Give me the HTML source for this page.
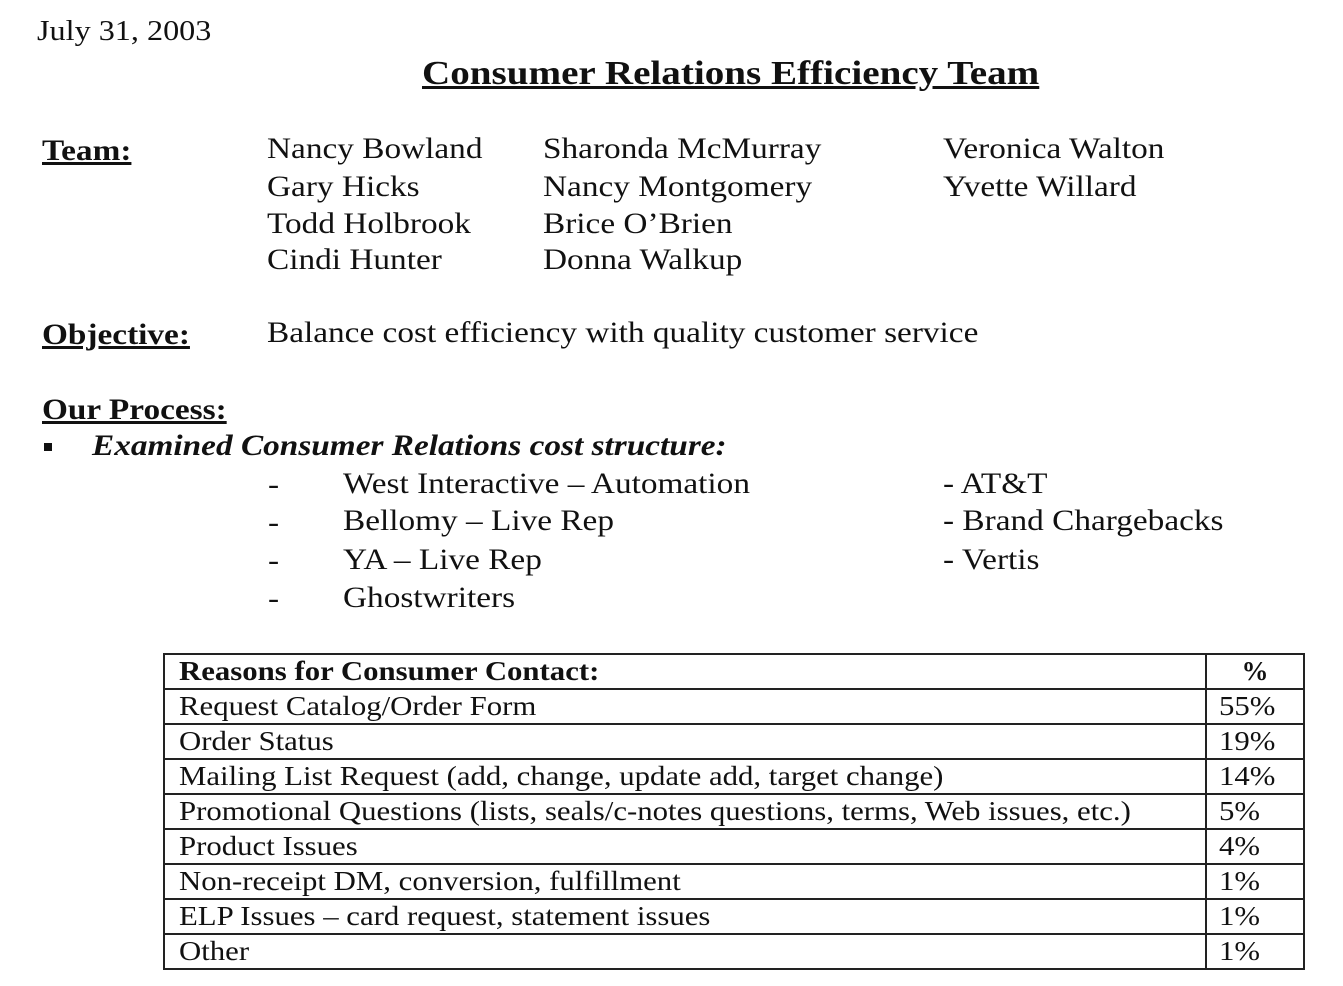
<!DOCTYPE html>
<html><head><meta charset="utf-8">
<style>
body{margin:0;width:1343px;height:986px;background:#fff;position:relative;overflow:hidden;font-family:"Liberation Serif",serif;color:#111}
.t{position:absolute;white-space:nowrap;line-height:1;font-size:30px;transform:scaleX(1.11);transform-origin:0 0}
.b{font-weight:bold;text-decoration:underline}
table{position:absolute;left:163px;top:653px;width:1142px;border-collapse:collapse;font-size:27px}
td{border:2px solid #222;height:33px;padding:0 0 0 14px;line-height:1;white-space:nowrap}
td span{display:inline-block;transform:scaleX(1.14);transform-origin:0 50%}
td.p{width:84px;padding-left:12px}
</style></head><body>
<div class="t" style="left:37px;top:17px;font-size:29px">July 31, 2003</div>
<div class="t b" style="left:422px;top:57px;font-size:34px;transform:scaleX(1.15)">Consumer Relations Efficiency Team</div>
<div class="t b" style="left:42px;top:136px">Team:</div>
<div class="t" style="left:267px;top:134px">Nancy Bowland</div>
<div class="t" style="left:267px;top:172px">Gary Hicks</div>
<div class="t" style="left:267px;top:209px">Todd Holbrook</div>
<div class="t" style="left:267px;top:245px">Cindi Hunter</div>
<div class="t" style="left:543px;top:134px">Sharonda McMurray</div>
<div class="t" style="left:543px;top:172px">Nancy Montgomery</div>
<div class="t" style="left:543px;top:209px">Brice O’Brien</div>
<div class="t" style="left:543px;top:245px">Donna Walkup</div>
<div class="t" style="left:943px;top:134px">Veronica Walton</div>
<div class="t" style="left:943px;top:172px">Yvette Willard</div>
<div class="t b" style="left:42px;top:320px">Objective:</div>
<div class="t" style="left:267px;top:318px">Balance cost efficiency with quality customer service</div>
<div class="t b" style="left:42px;top:395px">Our Process:</div>
<div style="position:absolute;left:44px;top:443px;width:8px;height:8px;background:#111"></div>
<div class="t" style="left:92px;top:431px;font-weight:bold;font-style:italic">Examined Consumer Relations cost structure:</div>
<div class="t" style="left:268px;top:470px">-</div><div class="t" style="left:343px;top:469px">West Interactive – Automation</div>
<div class="t" style="left:268px;top:508px">-</div><div class="t" style="left:343px;top:506px">Bellomy – Live Rep</div>
<div class="t" style="left:268px;top:546px">-</div><div class="t" style="left:343px;top:545px">YA – Live Rep</div>
<div class="t" style="left:268px;top:584px">-</div><div class="t" style="left:343px;top:583px">Ghostwriters</div>
<div class="t" style="left:943px;top:469px">- AT&amp;T</div>
<div class="t" style="left:943px;top:506px">- Brand Chargebacks</div>
<div class="t" style="left:943px;top:545px">- Vertis</div>
<table>
<tr><td><span><b>Reasons for Consumer Contact:</b></span></td><td class="p" style="text-align:center;padding:0"><b>%</b></td></tr>
<tr><td><span>Request Catalog/Order Form</span></td><td class="p"><span>55%</span></td></tr>
<tr><td><span>Order Status</span></td><td class="p"><span>19%</span></td></tr>
<tr><td><span>Mailing List Request (add, change, update add, target change)</span></td><td class="p"><span>14%</span></td></tr>
<tr><td><span>Promotional Questions (lists, seals/c-notes questions, terms, Web issues, etc.)</span></td><td class="p"><span>5%</span></td></tr>
<tr><td><span>Product Issues</span></td><td class="p"><span>4%</span></td></tr>
<tr><td><span>Non-receipt DM, conversion, fulfillment</span></td><td class="p"><span>1%</span></td></tr>
<tr><td><span>ELP Issues – card request, statement issues</span></td><td class="p"><span>1%</span></td></tr>
<tr><td><span>Other</span></td><td class="p"><span>1%</span></td></tr>
</table>
</body></html>
